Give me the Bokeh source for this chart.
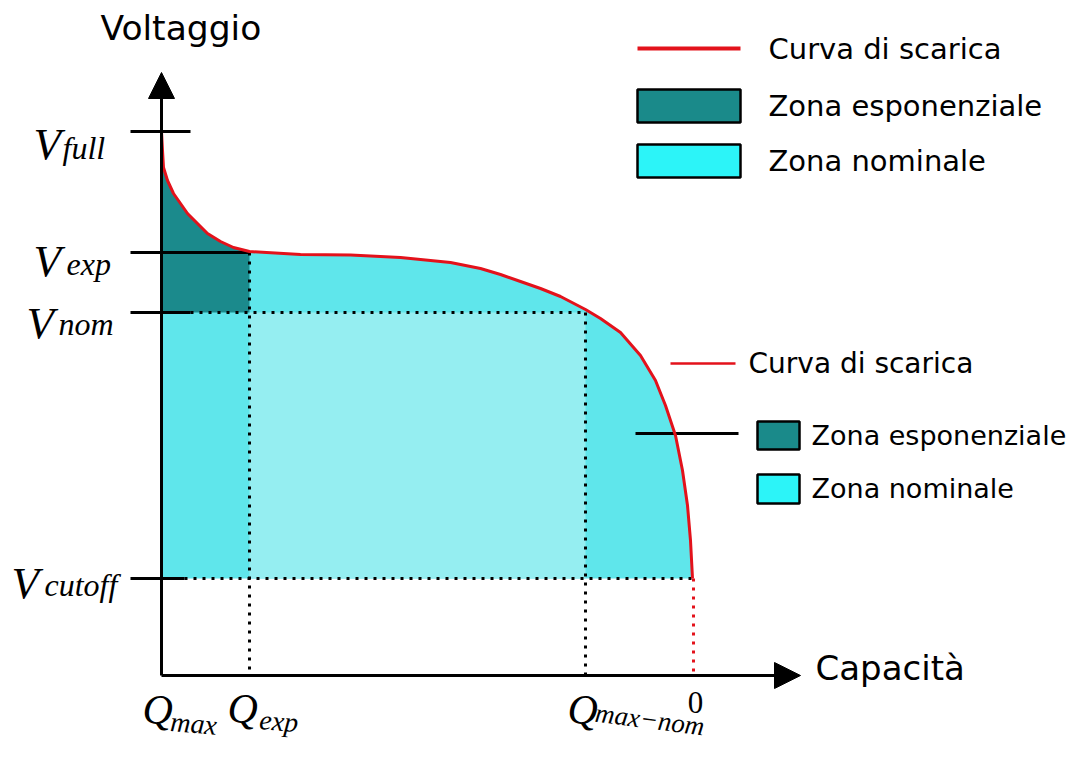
from bokeh.plotting import figure
from bokeh.models import Range1d, Arrow, NormalHead
from bokeh.core.properties import value
from bokeh.embed import file_html
from bokeh.resources import INLINE

# ---------------- data (chart units) ----------------
# discharge curve: capacity (x) vs voltage (y)
curve_q = [0, 1, 2, 6, 12, 19, 26, 36, 46, 59, 72, 88, 139, 189, 239, 289, 319, 339,
           359, 379, 399, 424, 439, 459, 479, 494, 504, 514, 521, 526, 529, 531]
curve_v = [544, 525, 508, 495, 482, 472, 462, 452, 442, 434, 428, 424, 421, 420.5, 418, 413, 407, 401,
           394, 387, 379, 366, 357, 343, 320, 295, 270, 240, 205, 170, 135, 97]

# characteristic levels
v_full, v_exp, v_nom, v_cutoff = 544, 423, 363, 97
q_max, q_exp, q_max_nom, q_zero = 0, 88, 424, 532

v_tick_main = ["V", "V", "V", "V"]
v_tick_sub = ["full", "exp", "nom", "cutoff"]
q_tick_main = ["Q", "Q", "Q"]
q_tick_sub = ["max", "exp", "max\u2212nom"]
zero_label = "0"

axis_y_title = "Voltaggio"
axis_x_title = "Capacità"
legend_labels = ["Curva di scarica", "Zona esponenziale", "Zona nominale"]

# ---------------- styles ----------------
RED = "#e3121b"
DARK = "#1b8a8c"
CYAN = "#5fe6eb"
LIGHT = "#95eef1"
LEG_DARK = "#1a8a8a"
LEG_CYAN = "#2cf4f8"
SANS = value("DejaVu Sans")
SERIF = value("Liberation Serif")

# ---------------- figure ----------------
p = figure(width=1068, height=741, x_range=Range1d(-161, 907), y_range=Range1d(-66, 675),
           output_backend="svg", toolbar_location=None, min_border=0,
           x_axis_type=None, y_axis_type=None)
p.grid.visible = False
p.outline_line_color = None
p.background_fill_color = "white"

# ---- filled zones ----
nom_x = list(curve_q) + [q_zero, q_max]
nom_y = list(curve_v) + [v_cutoff, v_cutoff]
p.patch(nom_x, nom_y, fill_color=CYAN, line_color=None)

# lighter central part
p.quad(left=[q_exp], right=[q_max_nom], bottom=[v_cutoff], top=[v_nom],
       fill_color=LIGHT, line_color=None)

# exponential zone
exp_pts = [(q, v) for q, v in zip(curve_q, curve_v) if q <= q_exp]
exp_x = [q for q, _ in exp_pts] + [q_exp, q_max]
exp_y = [v for _, v in exp_pts] + [v_nom, v_nom]
p.patch(exp_x, exp_y, fill_color=DARK, line_color=None)

# ---- guide lines ----
DOT = "3 6"
p.segment(x0=[29, 23], y0=[v_nom, v_cutoff], x1=[q_max_nom, q_zero], y1=[v_nom, v_cutoff],
          line_color="black", line_width=3, line_dash=DOT)
p.segment(x0=[q_exp, q_max_nom], y0=[v_exp, v_nom], x1=[q_exp, q_max_nom], y1=[0, 0],
          line_color="black", line_width=3, line_dash=DOT)
p.segment(x0=[q_zero], y0=[v_cutoff], x1=[q_zero], y1=[0],
          line_color=RED, line_width=3, line_dash=DOT)

# solid ticks on the voltage axis
p.segment(x0=[-31, -31, -31, -31], y0=[v_full, v_exp, v_nom, v_cutoff],
          x1=[29, q_exp, 29, 23], y1=[v_full, v_exp, v_nom, v_cutoff],
          line_color="black", line_width=3)

# leader line of second legend
p.segment(x0=[474], y0=[242], x1=[577], y1=[242], line_color="black", line_width=3)

# ---- discharge curve ----
p.line(curve_q, curve_v, line_color=RED, line_width=3, line_join="round")

# ---- axes with arrows ----
for xe, ye in [(0, 603), (639, 0)]:
    p.add_layout(Arrow(end=NormalHead(size=26, fill_color="black", line_color="black", line_width=1),
                       x_start=0, y_start=0, x_end=xe, y_end=ye,
                       line_width=3, line_color="black"))

# axis titles
p.text(x=[-61], y=[648], text=[axis_y_title], text_font=SANS, text_font_size="34.5px",
       text_baseline="middle", text_align="left", text_color="black")
p.text(x=[654], y=[8], text=[axis_x_title], text_font=SANS, text_font_size="34px",
       text_baseline="middle", text_align="left", text_color="black")

# ---- voltage labels ----
v_main_x = [-128, -128, -135, -150]
v_main_y = [532, 415, 353, 93]
v_sub_x = [-99, -95, -103, -117]
v_sub_y = [528, 412, 352, 91]
p.text(x=v_main_x, y=v_main_y, text=v_tick_main, text_font=SERIF, text_font_style="italic",
       text_font_size="45px", text_baseline="alphabetic", text_align="left", text_color="black")
p.text(x=v_sub_x, y=v_sub_y, text=v_tick_sub, text_font=SERIF, text_font_style="italic",
       text_font_size="32px", text_baseline="alphabetic", text_align="left", text_color="black")

# ---- capacity labels ----
q_main_x = [-19, 66, 406]
q_main_y = [-34, -33, -34]
q_sub_x = [9, 98, 434]
q_sub_y = [-46, -44, -37]
p.text(x=q_main_x, y=q_main_y, text=q_tick_main, text_font=SERIF, text_font_style="italic",
       text_font_size="42px", text_baseline="alphabetic", text_align="left", text_color="black")
p.text(x=q_sub_x[:2], y=q_sub_y[:2], text=q_tick_sub[:2], text_font=SERIF, text_font_style="italic",
       text_font_size="28px", text_baseline="alphabetic", text_align="left", text_color="black",
       angle=-0.08)
p.text(x=q_sub_x[2:], y=q_sub_y[2:], text=q_tick_sub[2:], text_font=SERIF, text_font_style="italic",
       text_font_size="27px", text_baseline="alphabetic", text_align="left", text_color="black",
       angle=-0.13)
p.text(x=[q_zero + 2], y=[-27], text=[zero_label], text_font=SERIF, text_font_size="31px",
       text_baseline="alphabetic", text_align="center", text_color="black")

# ---- legend 1 (top right) ----
p.segment(x0=[476], y0=[627], x1=[579], y1=[627], line_color=RED, line_width=4)
p.quad(left=[476, 476], right=[579, 579], bottom=[553, 498], top=[586, 531],
       fill_color=[LEG_DARK, LEG_CYAN], line_color="black", line_width=2.5)
p.text(x=[607, 607, 607], y=[627, 570, 515], text=legend_labels, text_font=SANS,
       text_font_size="29px", text_baseline="middle", text_align="left", text_color="black")

# ---- legend 2 (middle right) ----
p.segment(x0=[509], y0=[312], x1=[574], y1=[312], line_color=RED, line_width=2.5)
p.quad(left=[596, 596], right=[638, 638], bottom=[226, 172], top=[254, 201],
       fill_color=[LEG_DARK, LEG_CYAN], line_color="black", line_width=2.5)
p.text(x=[587], y=[312], text=legend_labels[:1], text_font=SANS,
       text_font_size="28px", text_baseline="middle", text_align="left", text_color="black")
p.text(x=[650, 650], y=[240, 187], text=legend_labels[1:], text_font=SANS,
       text_font_size="27px", text_baseline="middle", text_align="left", text_color="black")

open("out.html", "w").write(file_html(p, INLINE))
